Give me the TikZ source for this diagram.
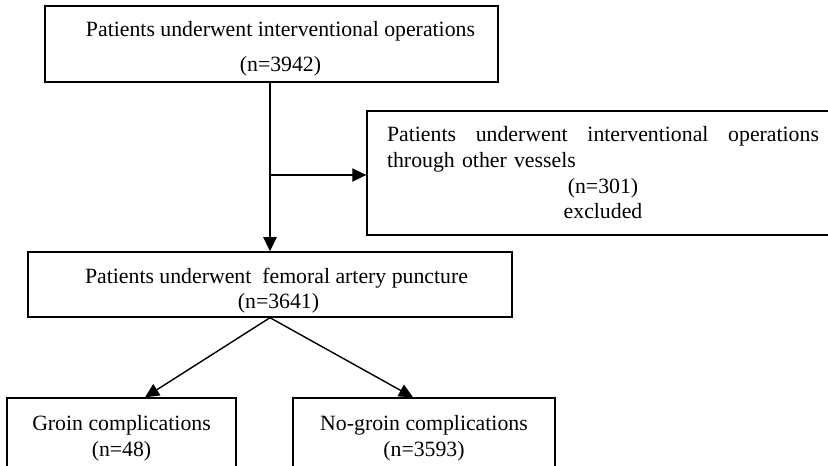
\documentclass[tikz,border=0pt]{standalone}
\usepackage{fontspec}
\setmainfont{Liberation Serif}
\usetikzlibrary{arrows.meta}

\begin{document}
\begin{tikzpicture}
  [x=0.02cm,y=-0.02cm,line width=0.8pt,
   every node/.style={draw,rectangle,inner sep=1pt,align=center,
     font=\fontsize{12.4}{14.6}\selectfont}]
 \tikzset{edge/.style = {-{Triangle[length=8pt,width=7.5pt]}}}
  \useasboundingbox (0,0) rectangle (828,466);
  \clip (0,0) rectangle (828,466);

  \node[minimum width=9.06cm,minimum height=1.52cm,text height=1.19cm,
        font=\fontsize{12.4}{19.9}\selectfont] (all) at (271.5,44)
    {\hspace*{0.36cm}Patients underwent interventional operations\\
     \hspace*{0.36cm}(n=3942)};
  \node[minimum width=9.44cm,minimum height=2.48cm,text width=8.64cm,
        align=left] (excl) at (603,173)
    {\makebox[8.64cm][l]{Patients\hfill underwent\hfill interventional\hfill operations}\\
     \makebox[8.64cm][l]{through other vessels}\\
     \makebox[8.64cm][c]{(n=301)}\\
     \makebox[8.64cm][c]{excluded}};
  \node[minimum width=9.68cm,minimum height=1.3cm,text height=1.07cm] (fem) at (270,284.5)
    {\hspace*{0.26cm}Patients underwent~ femoral artery puncture\\
     \hspace*{0.34cm}(n=3641)};
  \node[minimum width=4.58cm,minimum height=1.6cm] (groin) at (121.5,438)
    {Groin complications\\(n=48)};
  \node[minimum width=5.24cm,minimum height=1.6cm] (nogroin) at (424,438)
    {No-groin complications\\(n=3593)};
  \coordinate (j) at (270,175);

  \draw[edge] (all.south -| j) -- (fem.north -| j);
  \draw[edge] (j) -- (j -| excl.west);
  \draw[edge] (fem.south -| j) -- ([xshift=0.47cm]groin.north);
  \draw[edge] (fem.south -| j) -- ([xshift=-0.22cm]nogroin.north);

\end{tikzpicture}
\end{document}
